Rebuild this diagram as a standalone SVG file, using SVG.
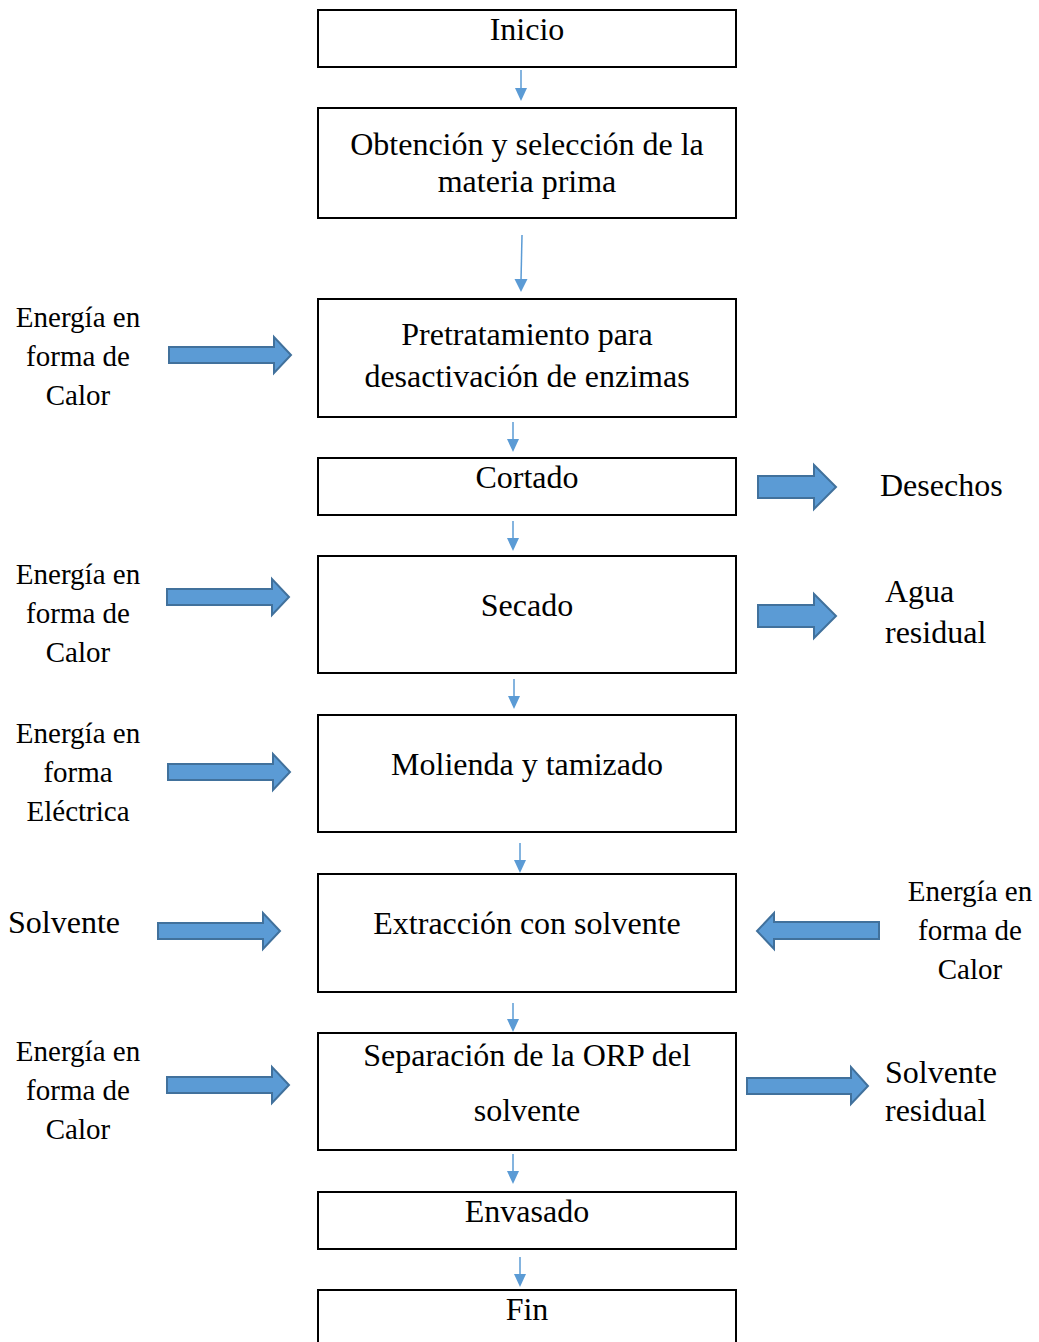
<svg xmlns="http://www.w3.org/2000/svg" width="1039" height="1342" viewBox="0 0 1039 1342">
<defs>
<style>
.box{fill:#fff;stroke:#000;stroke-width:2}
.t{font-family:"Liberation Serif","Times New Roman",serif;font-size:32px;fill:#000;text-anchor:middle}
.s{font-family:"Liberation Serif","Times New Roman",serif;font-size:29px;fill:#000}
.b{font-size:32px}
.c{text-anchor:middle}
.ln{stroke:#5B9BD5;stroke-width:1.5;fill:none}
.hd{fill:#5B9BD5}
.ba{fill:#5B9BD5;stroke:#41719C;stroke-width:2;stroke-linejoin:miter}
</style>
</defs>
<rect width="1039" height="1342" fill="#fff"/>
<g id="connectors">
<line class="ln" x1="521" y1="70" x2="521" y2="90"/><polygon class="hd" points="515,88 527,88 521,101"/>
<line class="ln" x1="522" y1="235" x2="521" y2="281"/><polygon class="hd" points="514.5,279 527.5,279 521,292"/>
<line class="ln" x1="513" y1="422" x2="513" y2="441"/><polygon class="hd" points="507,439 519,439 513,452"/>
<line class="ln" x1="513" y1="521" x2="513" y2="540"/><polygon class="hd" points="507,538 519,538 513,551"/>
<line class="ln" x1="514" y1="679" x2="514" y2="698"/><polygon class="hd" points="508,696 520,696 514,709"/>
<line class="ln" x1="520" y1="843" x2="520" y2="862"/><polygon class="hd" points="514,860 526,860 520,873"/>
<line class="ln" x1="513" y1="1003" x2="513" y2="1021"/><polygon class="hd" points="507,1019 519,1019 513,1032"/>
<line class="ln" x1="513" y1="1154" x2="513" y2="1173"/><polygon class="hd" points="507,1171 519,1171 513,1184"/>
<line class="ln" x1="520" y1="1257" x2="520" y2="1276"/><polygon class="hd" points="514,1274 526,1274 520,1287"/>
<polygon class="ba" points="169,347 274,347 274,337 291,355 274,373 274,363 169,363"/>
<polygon class="ba" points="758,476 814,476 814,465 836,487 814,509 814,498 758,498"/>
<polygon class="ba" points="167,589 272,589 272,579 289,597 272,615 272,605 167,605"/>
<polygon class="ba" points="758,605 814,605 814,594 836,616 814,638 814,627 758,627"/>
<polygon class="ba" points="168,764 273,764 273,754 290,772 273,790 273,780 168,780"/>
<polygon class="ba" points="158,923 263,923 263,913 280,931 263,949 263,939 158,939"/>
<polygon class="ba" points="879,922 774,922 774,913 757,931 774,949 774,939 879,939"/>
<polygon class="ba" points="167,1077 272,1077 272,1067 289,1085 272,1103 272,1093 167,1093"/>
<polygon class="ba" points="747,1078 851,1078 851,1067 868,1086 851,1104 851,1094 747,1094"/>
</g>
<g id="inicio"><rect class="box" x="318" y="10" width="418" height="57"/><text class="t" x="527" y="40">Inicio</text></g>
<g id="obtencion"><rect class="box" x="318" y="108" width="418" height="110"/><text class="t" x="527" y="155">Obtención y selección de la</text><text class="t" x="527" y="192">materia prima</text></g>
<g id="pretratamiento"><rect class="box" x="318" y="299" width="418" height="118"/><text class="t" x="527" y="345">Pretratamiento para</text><text class="t" x="527" y="387">desactivación de enzimas</text></g>
<g id="cortado"><rect class="box" x="318" y="458" width="418" height="57"/><text class="t" x="527" y="488">Cortado</text></g>
<g id="secado"><rect class="box" x="318" y="556" width="418" height="117"/><text class="t" x="527" y="616">Secado</text></g>
<g id="molienda"><rect class="box" x="318" y="715" width="418" height="117"/><text class="t" x="527" y="775">Molienda y tamizado</text></g>
<g id="extraccion"><rect class="box" x="318" y="874" width="418" height="118"/><text class="t" x="527" y="934">Extracción con solvente</text></g>
<g id="separacion"><rect class="box" x="318" y="1033" width="418" height="117"/><text class="t" x="527" y="1066">Separación de la ORP del</text><text class="t" x="527" y="1121">solvente</text></g>
<g id="envasado"><rect class="box" x="318" y="1192" width="418" height="57"/><text class="t" x="527" y="1222">Envasado</text></g>
<g id="fin"><rect class="box" x="318" y="1290" width="418" height="60"/><text class="t" x="527" y="1320">Fin</text></g>
<g id="label-calor1"><text class="s c" x="78" y="327">Energía en</text><text class="s c" x="78" y="366">forma de</text><text class="s c" x="78" y="405">Calor</text></g>
<g id="label-calor2"><text class="s c" x="78" y="584">Energía en</text><text class="s c" x="78" y="623">forma de</text><text class="s c" x="78" y="662">Calor</text></g>
<g id="label-electrica"><text class="s c" x="78" y="743">Energía en</text><text class="s c" x="78" y="782">forma</text><text class="s c" x="78" y="821">Eléctrica</text></g>
<g id="label-solvente"><text class="s b" x="8" y="933">Solvente</text></g>
<g id="label-calor3"><text class="s c" x="78" y="1061">Energía en</text><text class="s c" x="78" y="1100">forma de</text><text class="s c" x="78" y="1139">Calor</text></g>
<g id="label-desechos"><text class="s b" x="880" y="496">Desechos</text></g>
<g id="label-agua"><text class="s b" x="885" y="602">Agua</text><text class="s b" x="885" y="643">residual</text></g>
<g id="label-calor4"><text class="s c" x="970" y="901">Energía en</text><text class="s c" x="970" y="940">forma de</text><text class="s c" x="970" y="979">Calor</text></g>
<g id="label-solvres"><text class="s b" x="885" y="1083">Solvente</text><text class="s b" x="885" y="1121">residual</text></g>
</svg>
